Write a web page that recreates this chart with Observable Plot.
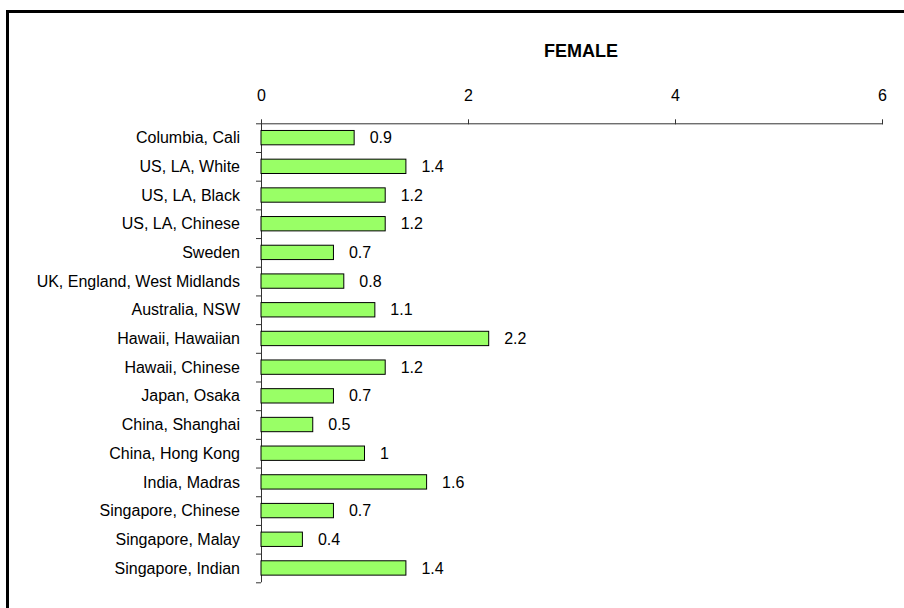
<!DOCTYPE html>
<html>
<head>
<meta charset="utf-8">
<script src="https://cdn.jsdelivr.net/npm/d3@7"></script>
<script src="https://cdn.jsdelivr.net/npm/@observablehq/plot@0.6"></script>
<style>
  html, body { margin: 0; padding: 0; background: #fff; overflow: hidden; width: 904px; height: 608px; }
  #frame { position: absolute; left: 6px; top: 10px; width: 1000px; height: 700px; z-index: 5;
           border-top: 3px solid #000; border-left: 3px solid #000; box-sizing: border-box; pointer-events: none; }
  #wrap { position: absolute; left: 0; top: 0; width: 904px; z-index: 1; }
  #title { height: 70px; box-sizing: border-box; padding-top: 41.5px; padding-left: 258px;
           text-align: center; font: bold 18px/18px "Liberation Sans", Arial, sans-serif; color: #000; }
  svg { display: block; }
</style>
</head>
<body>
<div id="wrap">
  <div id="title">FEMALE</div>
  <div id="chart"></div>
</div>
<div id="frame"></div>
<script>
const categories = [
  "Columbia, Cali", "US, LA, White", "US, LA, Black", "US, LA, Chinese", "Sweden",
  "UK, England, West Midlands", "Australia, NSW", "Hawaii, Hawaiian", "Hawaii, Chinese",
  "Japan, Osaka", "China, Shanghai", "China, Hong Kong", "India, Madras",
  "Singapore, Chinese", "Singapore, Malay", "Singapore, Indian"
];
const values = [0.9, 1.4, 1.2, 1.2, 0.7, 0.8, 1.1, 2.2, 1.2, 0.7, 0.5, 1, 1.6, 0.7, 0.4, 1.4];
const xTicks = [0, 2, 4, 6];

const data = categories.map((c, i) => ({category: c, value: values[i]}));

const W = 904, H = 538, mt = 53.3, mb = 25.7, ml = 261, mr = 22;
const step = (H - mt - mb) / categories.length;
const font = '"Liberation Sans", Arial, sans-serif';

const chart = Plot.plot({
  width: W, height: H,
  marginTop: mt, marginBottom: mb, marginLeft: ml, marginRight: mr,
  style: {fontFamily: font, fontSize: "16px", color: "#000", background: "transparent"},
  x: {domain: [0, 6], axis: null, label: null},
  y: {domain: categories, paddingInner: 0.5, paddingOuter: 0.25, align: 0.5, round: false, axis: null, label: null},
  marks: [
    Plot.axisX(xTicks, {anchor: "top", tickSize: 5, tickPadding: 17.6, stroke: "#333",
      fontSize: 16, label: null, tickFormat: d => String(d)}),
    Plot.axisY({anchor: "left", tickSize: 0, tickPadding: 21.5, fontSize: 16, label: null}),
    Plot.frame({anchor: "top", stroke: "#333"}),
    Plot.ruleX([0], {stroke: "#333"}),
    Plot.ruleY(categories, {y: d => d, x1: 0, x2: 0, insetLeft: -5, dy: -step / 2, stroke: "#333"}),
    Plot.ruleY(categories.slice(-1), {y: d => d, x1: 0, x2: 0, insetLeft: -5, dy: step / 2, stroke: "#333"}),
    Plot.barX(data, {x: "value", y: "category", fill: "#99ff66", stroke: "#000", strokeWidth: 1}),
    Plot.text(data, {x: "value", y: "category", text: d => String(d.value), dx: 15,
      textAnchor: "start", fontSize: 16, fill: "#000"})
  ]
});
document.getElementById("chart").appendChild(chart);
</script>
</body>
</html>
